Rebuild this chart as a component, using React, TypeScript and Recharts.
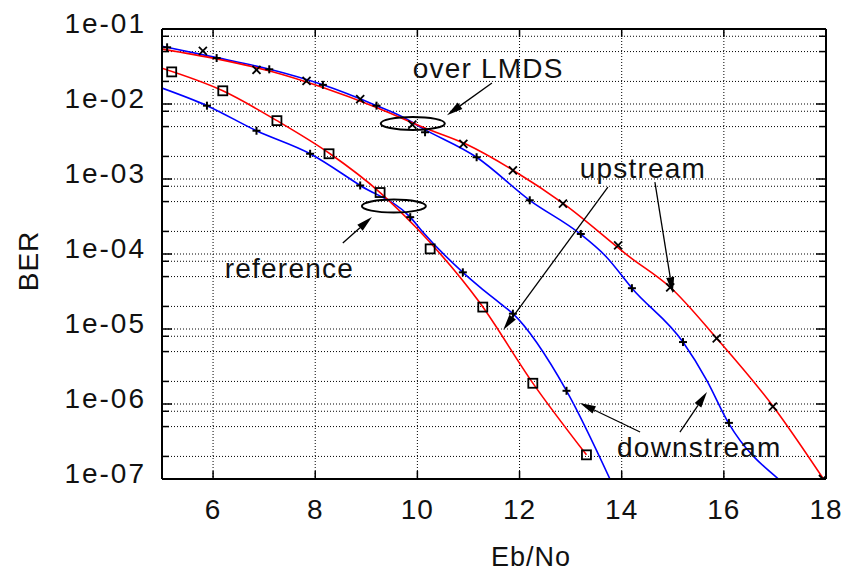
import React from "react";
import {
  ComposedChart,
  Line,
  Scatter,
  XAxis,
  YAxis,
  CartesianGrid,
  ReferenceDot,
  ReferenceLine,
  Label,
} from "recharts";

type Pt = [number, number];

// Eb/No (dB) vs BER
const refUpLine: Pt[] = [
  [5.0, 3.0e-2], [6.19, 1.5e-2], [7.25, 6.0e-3], [8.29, 2.17e-3], [9.27, 6.6e-4],
  [9.99, 2.2e-4], [11.23, 2.2e-5], [12.26, 1.9e-6], [13.31, 2.1e-7],
];
const refUpMarks: Pt[] = [
  [5.19, 2.68e-2], [6.19, 1.5e-2], [7.25, 6.0e-3], [8.27, 2.17e-3], [9.27, 6.6e-4],
  [10.25, 1.17e-4], [11.28, 1.96e-5], [12.26, 1.89e-6], [13.31, 2.1e-7],
];

const refDownLine: Pt[] = [
  [5.0, 1.63e-2], [5.88, 9.5e-3], [6.85, 4.4e-3], [7.9, 2.17e-3], [8.88, 8.2e-4],
  [9.86, 3.1e-4], [10.11, 1.95e-4], [10.89, 5.7e-5], [11.23, 3.6e-5], [11.62, 2.2e-5],
  [11.87, 1.6e-5], [12.92, 1.5e-6], [13.77, 1e-7],
];
const refDownMarks: Pt[] = [
  [5.88, 9.5e-3], [6.85, 4.4e-3], [7.9, 2.17e-3], [8.88, 8.2e-4], [9.86, 3.1e-4],
  [10.89, 5.7e-5], [11.87, 1.6e-5], [12.92, 1.5e-6],
];

const lmdsUpLine: Pt[] = [
  [5.0, 5.4e-2], [6.07, 4.0e-2], [7.11, 2.75e-2], [8.15, 1.66e-2], [9.2, 9.0e-3],
  [10.11, 4.9e-3], [10.96, 2.9e-3], [11.88, 1.3e-3], [12.86, 4.7e-4], [14.16, 9.1e-5],
  [14.95, 3.6e-5], [15.86, 7.5e-6], [16.97, 9.2e-7], [17.95, 1e-7],
];
const lmdsUpMarks: Pt[] = [
  [5.8, 5.1e-2], [6.85, 2.85e-2], [7.83, 2.03e-2], [8.88, 1.16e-2], [9.9, 5.3e-3],
  [10.9, 2.95e-3], [11.87, 1.3e-3], [12.85, 4.7e-4], [13.93, 1.3e-4], [14.95, 3.6e-5],
  [15.86, 7.5e-6], [16.96, 9.2e-7], [17.94, 1e-7],
];

const lmdsDownLine: Pt[] = [
  [5.0, 5.9e-2], [6.07, 4.15e-2], [7.11, 2.9e-2], [8.15, 1.8e-2], [9.2, 9.5e-3],
  [9.73, 6.6e-3], [10.11, 4.7e-3], [11.16, 1.95e-3], [12.2, 5.2e-4], [13.18, 1.87e-4],
  [13.71, 9.0e-5], [14.2, 3.5e-5], [15.2, 6.7e-6], [15.66, 2.1e-6], [16.09, 5.6e-7],
  [17.07, 1e-7],
];
const lmdsDownMarks: Pt[] = [
  [5.1, 5.7e-2], [6.07, 4.1e-2], [7.1, 2.9e-2], [8.15, 1.8e-2], [9.2, 9.5e-3],
  [10.15, 4.2e-3], [11.16, 1.95e-3], [12.2, 5.2e-4], [13.2, 1.85e-4], [14.2, 3.5e-5],
  [15.2, 6.7e-6], [16.1, 5.6e-7],
];

const X_TICKS = [6, 8, 10, 12, 14, 16, 18];
const Y_TICKS = [
  1e-7, 2e-7, 5e-7, 8e-7, 1e-6, 2e-6, 5e-6, 8e-6, 1e-5, 2e-5, 5e-5, 8e-5,
  1e-4, 2e-4, 5e-4, 8e-4, 1e-3, 2e-3, 5e-3, 8e-3, 1e-2, 2e-2, 5e-2, 8e-2, 1e-1,
];

// annotations, in data coordinates
const notes = [
  { text: "over LMDS", x: 9.91, y: 2.22e-2 },
  { text: "reference", x: 6.23, y: 4.79e-5 },
  { text: "upstream", x: 13.18, y: 1.03e-3 },
  { text: "downstream", x: 13.91, y: 1.96e-7 },
];
const rings = [
  { x: 9.91, y: 5.5e-3 },
  { x: 9.54, y: 4.36e-4 },
];
const arrows: [Pt, Pt][] = [
  [[11.46, 1.9e-2], [10.58, 7.1e-3]],
  [[8.54, 1.4e-4], [9.11, 3.11e-4]],
  [[13.73, 7.8e-4], [11.68, 9.7e-6]],
  [[14.65, 9.1e-4], [15.0, 3.0e-5]],
  [[14.36, 4.23e-7], [13.18, 1.03e-6]],
  [[15.14, 4.23e-7], [15.67, 1.44e-6]],
];

const pts = (a: Pt[]) => a.map(([x, y]) => ({ x, y }));

const FONT = "'Liberation Sans', Arial, Helvetica, sans-serif";
const INK = "#111";

const isDecade = (v: number) => {
  const e = Math.log10(v);
  return Math.abs(e - Math.round(e)) < 1e-6;
};

function LeftTick({ x, y, payload }: any) {
  const dec = isDecade(payload.value);
  return (
    <g>
      <line x1={x} y1={y} x2={x + (dec ? 10 : 7)} y2={y} stroke="#000" strokeWidth={1.5} />
      {dec && (
        <text
          x={x - 16}
          y={y + 4}
          textAnchor="end"
          fontFamily={FONT}
          fontSize={28}
          letterSpacing={2}
          fill={INK}
        >
          {`1e-0${-Math.round(Math.log10(payload.value))}`}
        </text>
      )}
    </g>
  );
}

function RightTick({ x, y, payload }: any) {
  const dec = isDecade(payload.value);
  return <line x1={x} y1={y} x2={x - (dec ? 10 : 7)} y2={y} stroke="#000" strokeWidth={1.5} />;
}

function BottomTick({ x, y, payload }: any) {
  return (
    <g>
      <line x1={x} y1={y} x2={x} y2={y - 8} stroke="#000" strokeWidth={1.5} />
      <text
        x={x}
        y={y + 40}
        textAnchor="middle"
        fontFamily={FONT}
        fontSize={28}
        letterSpacing={1}
        fill={INK}
      >
        {payload.value}
      </text>
    </g>
  );
}

function TopTick({ x, y }: any) {
  return <line x1={x} y1={y} x2={x} y2={y + 8} stroke="#000" strokeWidth={1.5} />;
}

function XTitle({ viewBox }: any) {
  return (
    <text
      x={viewBox.x + 369}
      y={viewBox.y + 87}
      textAnchor="middle"
      fontFamily={FONT}
      fontSize={27}
      letterSpacing={1}
      fill={INK}
    >
      Eb/No
    </text>
  );
}

function YTitle({ viewBox }: any) {
  const x = viewBox.x + 38;
  const y = viewBox.y + 232;
  return (
    <text
      x={x}
      y={y}
      transform={`rotate(-90 ${x} ${y})`}
      textAnchor="middle"
      fontFamily={FONT}
      fontSize={28}
      letterSpacing={1}
      fill={INK}
    >
      BER
    </text>
  );
}

function Square({ cx, cy }: any) {
  return <rect x={cx - 4.5} y={cy - 4.5} width={9} height={9} fill="none" stroke="#000" strokeWidth={1.8} />;
}

function Cross({ cx, cy }: any) {
  return (
    <g stroke="#000" strokeWidth={1.8}>
      <line x1={cx - 4} y1={cy - 4} x2={cx + 4} y2={cy + 4} />
      <line x1={cx - 4} y1={cy + 4} x2={cx + 4} y2={cy - 4} />
    </g>
  );
}

function Plus({ cx, cy }: any) {
  return (
    <g stroke="#000" strokeWidth={2}>
      <line x1={cx - 4} y1={cy} x2={cx + 4} y2={cy} />
      <line x1={cx} y1={cy - 4} x2={cx} y2={cy + 4} />
    </g>
  );
}

function Arrow({ x1, y1, x2, y2 }: any) {
  const a = Math.atan2(y2 - y1, x2 - x1);
  const len = 16;
  const w = 4;
  const bx = x2 - len * Math.cos(a);
  const by = y2 - len * Math.sin(a);
  const px = -Math.sin(a) * w;
  const py = Math.cos(a) * w;
  return (
    <g>
      <line x1={x1} y1={y1} x2={bx} y2={by} stroke="#000" strokeWidth={1.3} />
      <polygon points={`${x2},${y2} ${bx + px},${by + py} ${bx - px},${by - py}`} fill="#000" />
    </g>
  );
}

export default function App() {
  return (
    <div style={{ position: "fixed", left: 0, top: 0, width: 853, height: 573, background: "#fff" }}>
      <ComposedChart width={853} height={573} margin={{ top: 0, right: 0, bottom: 0, left: 0 }}>
        <CartesianGrid stroke="#000" strokeWidth={1} strokeDasharray="1 2" />
        <XAxis
          dataKey="x"
          type="number"
          domain={[5, 18]}
          ticks={X_TICKS}
          interval={0}
          allowDataOverflow
          height={94}
          tickSize={0}
          tickMargin={0}
          tickLine={false}
          tick={<BottomTick />}
          axisLine={{ stroke: "#000", strokeWidth: 2 }}
          label={<Label content={<XTitle />} />}
        />
        <XAxis
          xAxisId="top"
          orientation="top"
          dataKey="x"
          type="number"
          domain={[5, 18]}
          ticks={X_TICKS}
          interval={0}
          allowDataOverflow
          height={29}
          tickSize={0}
          tickMargin={0}
          tickLine={false}
          tick={<TopTick />}
          axisLine={{ stroke: "#000", strokeWidth: 2 }}
        />
        <YAxis
          dataKey="y"
          scale="log"
          type="number"
          domain={[1e-7, 1e-1]}
          ticks={Y_TICKS}
          interval={0}
          allowDataOverflow
          width={162}
          tickSize={0}
          tickMargin={0}
          tickLine={false}
          tick={<LeftTick />}
          axisLine={{ stroke: "#000", strokeWidth: 2 }}
          label={<Label content={<YTitle />} />}
        />
        <YAxis
          yAxisId="right"
          orientation="right"
          dataKey="y"
          scale="log"
          type="number"
          domain={[1e-7, 1e-1]}
          ticks={Y_TICKS}
          interval={0}
          allowDataOverflow
          width={27}
          tickSize={0}
          tickMargin={0}
          tickLine={false}
          tick={<RightTick />}
          axisLine={{ stroke: "#000", strokeWidth: 2 }}
        />

        <Line data={pts(lmdsDownLine)} dataKey="y" type="monotone" stroke="#0000ff" strokeWidth={1.6} dot={false} isAnimationActive={false} />
        <Line data={pts(lmdsUpLine)} dataKey="y" type="monotone" stroke="#ff0000" strokeWidth={1.6} dot={false} isAnimationActive={false} />
        <Line data={pts(refDownLine)} dataKey="y" type="monotone" stroke="#0000ff" strokeWidth={1.6} dot={false} isAnimationActive={false} />
        <Line data={pts(refUpLine)} dataKey="y" type="monotone" stroke="#ff0000" strokeWidth={1.6} dot={false} isAnimationActive={false} />

        <Scatter data={pts(refUpMarks)} dataKey="y" shape={<Square />} isAnimationActive={false} />
        <Scatter data={pts(refDownMarks)} dataKey="y" shape={<Plus />} isAnimationActive={false} />
        <Scatter data={pts(lmdsUpMarks)} dataKey="y" shape={<Cross />} isAnimationActive={false} />
        <Scatter data={pts(lmdsDownMarks)} dataKey="y" shape={<Plus />} isAnimationActive={false} />

        {rings.map((r, i) => (
          <ReferenceDot
            key={`ring${i}`}
            x={r.x}
            y={r.y}
            r={0}
            shape={(p: any) => (
              <ellipse cx={p.cx} cy={p.cy} rx={32} ry={6.5} fill="none" stroke="#000" strokeWidth={2} />
            )}
          />
        ))}
        {arrows.map((s, i) => (
          <ReferenceLine
            key={`arrow${i}`}
            segment={[{ x: s[0][0], y: s[0][1] }, { x: s[1][0], y: s[1][1] }]}
            shape={<Arrow />}
          />
        ))}
        {notes.map((n) => (
          <ReferenceDot
            key={n.text}
            x={n.x}
            y={n.y}
            r={0}
            shape={(p: any) => (
              <text x={p.cx} y={p.cy} fontFamily={FONT} fontSize={28} letterSpacing={1.2} fill={INK}>
                {n.text}
              </text>
            )}
          />
        ))}
      </ComposedChart>
    </div>
  );
}
